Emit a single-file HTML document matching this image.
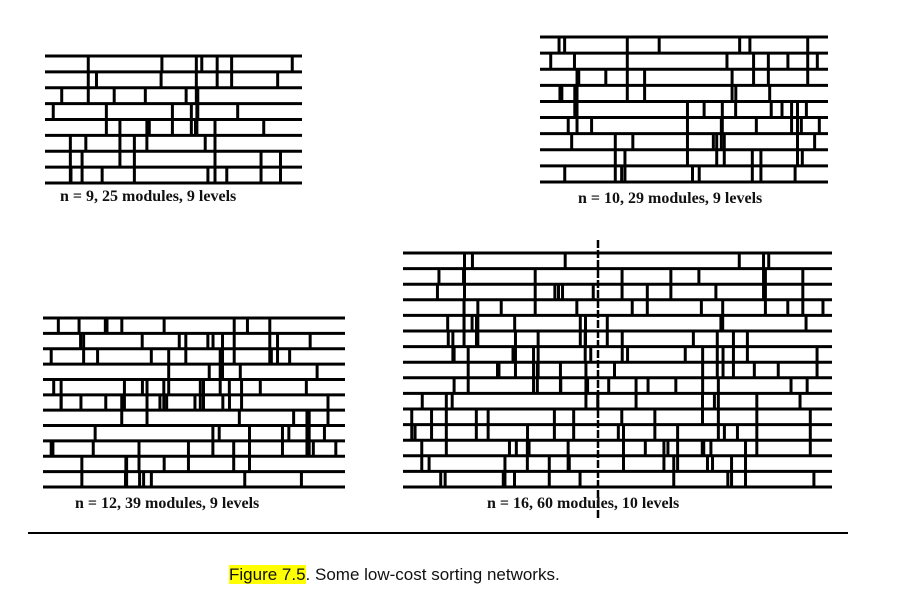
<!DOCTYPE html>
<html><head><meta charset="utf-8"><style>
html,body{margin:0;padding:0;background:#fff;}
body{width:903px;height:600px;position:relative;overflow:hidden;}
.lbl{position:absolute;font-family:"Liberation Serif",serif;font-size:16px;font-weight:bold;color:#111;white-space:nowrap;}
.cap{position:absolute;left:229px;top:565px;font-family:"Liberation Sans",sans-serif;font-size:17px;color:#111;white-space:nowrap;}
.cap span{background:#ffff00;}
</style></head><body>
<svg id="s" width="903" height="600" style="position:absolute;left:0;top:0"></svg>
<div class="lbl" style="left:60px;top:188px">n = 9, 25 modules, 9 levels</div>
<div class="lbl" style="left:578px;top:190px">n = 10, 29 modules, 9 levels</div>
<div class="lbl" style="left:75px;top:495px">n = 12, 39 modules, 9 levels</div>
<div class="lbl" style="left:487px;top:495px">n = 16, 60 modules, 10 levels</div>
<div style="position:absolute;left:28px;top:532px;width:820px;height:2px;background:#000"></div>
<div class="cap"><span>Figure 7.5</span>. Some low-cost sorting networks.</div>
<script>
var s=document.getElementById('s'),NS='http://www.w3.org/2000/svg',seed=7;
function r(){seed=(seed*1103515245+12345)%2147483648;return seed/2147483648;}
function ln(x1,y1,x2,y2,w,d){var l=document.createElementNS(NS,'line');l.setAttribute('x1',x1);l.setAttribute('y1',y1);l.setAttribute('x2',x2);l.setAttribute('y2',y2);l.setAttribute('stroke','#000');l.setAttribute('stroke-width',w);if(d)l.setAttribute('stroke-dasharray',d);s.appendChild(l);}
function net(x0,x1,y0,y1,n,cnt){var ys=[];for(var i=0;i<n;i++)ys.push(y0+(y1-y0)*i/(n-1));
for(var i=0;i<n;i++)ln(x0,ys[i],x1,ys[i],3);
for(var c=0;c<cnt;c++){var x=x0+8+r()*(x1-x0-16);var a=Math.floor(r()*(n-1));var sp=1+Math.floor(r()*r()*4);var b=Math.min(n-1,a+sp);ln(x,ys[a],x,ys[b],3);}}
net(45,302,56,183,9,38);
net(540,828,37,182,10,55);
net(43,345,318,487,12,80);
net(403,832,253,487,16,130);
ln(598,240,598,520,2.5,'8,2');
</script>
</body></html>
